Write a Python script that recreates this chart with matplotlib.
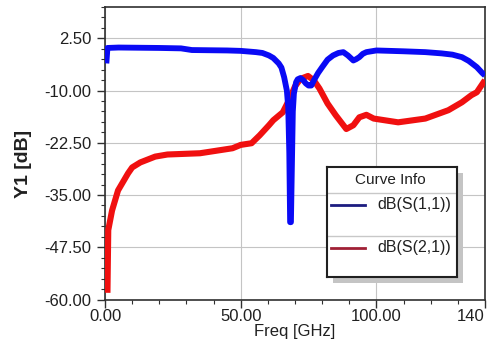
import matplotlib
matplotlib.use("Agg")
import matplotlib.pyplot as plt
from matplotlib.lines import Line2D
from matplotlib.patches import Rectangle
from matplotlib.ticker import MultipleLocator, FixedLocator, FixedFormatter

plt.rcParams['font.family'] = ['Liberation Sans', 'DejaVu Sans']

# ---- data ----
s11_freq = [0.5, 0.9, 5, 20, 28, 32, 45, 50, 55.6, 58, 60.4, 62, 64, 65, 66, 67,
            67.5, 67.9, 68.2, 68.5, 68.8, 69.2, 69.6, 70.4, 71, 72, 73, 74, 75,
            76, 77, 78.5, 80, 82, 84, 86, 87.8, 89.5, 91.5, 92.5, 93.7, 95, 96.3,
            100, 110, 118, 124, 128, 131.5, 134, 137, 139, 140]
s11_db = [-3.5, 0.2, 0.3, 0.2, 0.1, -0.3, -0.4, -0.5, -0.8, -1.0, -1.6, -2.2,
          -3.5, -4.5, -6.8, -10, -14, -25, -41.5, -41.5, -30, -15, -10.7, -8,
          -7.3, -7.0, -7.5, -8.3, -8.8, -8.8, -7.5, -5.8, -4.4, -2.6, -1.6, -1.0,
          -0.8, -1.6, -2.8, -2.5, -2.0, -1.2, -0.8, -0.4, -0.6, -0.8, -1.1, -1.4,
          -2.0, -2.9, -4.4, -5.8, -6.4]

s21_freq = [0.9, 1.2, 2.6, 4.8, 8.5, 10, 13, 18.5, 23, 35, 47, 50, 54, 57, 60.4,
            62, 65.5, 68, 70, 72, 74.8, 77, 79, 82, 85, 88.9, 91.5, 93.7, 96.3,
            99, 108, 118, 126.5, 131.5, 135, 137, 140]
s21_db = [-58.4, -43.4, -38.7, -33.9, -29.8, -28.4, -27.2, -25.8, -25.3, -25.0,
          -23.8, -23.0, -22.6, -20.7, -18.3, -17.1, -15.2, -12, -9, -7.2, -6.5,
          -7.6, -9.5, -13.1, -15.9, -19.2, -18.3, -16.4, -15.8, -16.7, -17.6,
          -16.7, -14.7, -12.8, -11.1, -10.4, -7.5]

xtick_vals = [0, 50, 100, 140]
xtick_labels = ['0.00', '50.00', '100.00', '140']
ytick_vals = [-60, -47.5, -35, -22.5, -10, 2.5]
ytick_labels = ['-60.00', '-47.50', '-35.00', '-22.50', '-10.00', '2.50']
legend_labels = ['dB(S(1,1))', 'dB(S(2,1))']

W, H = 490, 343
fig = plt.figure(figsize=(W / 100, H / 100), dpi=100)
fig.patch.set_facecolor('white')
ax = fig.add_axes([105 / W, (H - 299.5) / H, 380 / W, 292.5 / H])

ax.plot(s21_freq, s21_db, color='#f01010', lw=4.4, solid_capstyle='butt', zorder=3)
ax.plot(s11_freq, s11_db, color='#0a0af5', lw=4.2, solid_capstyle='butt', zorder=4)

ax.set_xlim(0, 140)
ax.set_ylim(-60, 10)
ax.xaxis.set_major_locator(FixedLocator(xtick_vals))
ax.xaxis.set_major_formatter(FixedFormatter(xtick_labels))
ax.xaxis.set_minor_locator(MultipleLocator(10))
ax.yaxis.set_major_locator(FixedLocator(ytick_vals))
ax.yaxis.set_major_formatter(FixedFormatter(ytick_labels))
ax.yaxis.set_minor_locator(MultipleLocator(2.5))

ax.tick_params(which='major', direction='out', length=6, width=1.0,
               color='#303030', labelsize=12, labelcolor='#202020')
ax.tick_params(axis='x', which='major', pad=0.5)
ax.tick_params(axis='y', which='major', pad=4)
ax.tick_params(which='minor', direction='out', length=3, width=0.8, color='#303030')

ax.grid(True, which='major', color='#c4c4c4', lw=0.8)
ax.set_axisbelow(True)
for sp in ax.spines.values():
    sp.set_color('#303030')
    sp.set_linewidth(1.2)

fig.canvas.draw()
ax.get_xticklabels()[-1].set_horizontalalignment('right')

ax.set_xlabel('Freq [GHz]', fontsize=12, color='#202020', labelpad=0)
fig.text(23 / W, (H - 164) / H, 'Y1 [dB]', rotation=90, fontsize=14,
         fontweight='bold', ha='center', va='center', color='#202020')

# ---- legend (Curve Info box) ----
lx0, ly0, lw_, lh_ = 327, 167, 130, 110
fig.patches.append(Rectangle(((lx0 + 6) / W, (H - ly0 - lh_ - 6) / H), lw_ / W, lh_ / H,
                             transform=fig.transFigure, facecolor='#c4c4c4',
                             edgecolor='none', zorder=5))
lax = fig.add_axes([lx0 / W, (H - ly0 - lh_) / H, lw_ / W, lh_ / H], zorder=6)
lax.set_xlim(0, 1)
lax.set_ylim(0, 1)
lax.set_xticks([])
lax.set_yticks([])
lax.set_facecolor('white')
for sp in lax.spines.values():
    sp.set_color('#202020')
    sp.set_linewidth(1.5)
lax.text(0.485, 0.882, 'Curve Info', ha='center', va='center', fontsize=11, color='#202020')
lax.axhline(0.764, color='#c8c8c8', lw=1)
lax.axhline(0.373, color='#c8c8c8', lw=1)
for yy, col, lab in [(0.655, '#1c1c80', legend_labels[0]), (0.264, '#a02035', legend_labels[1])]:
    lax.add_line(Line2D([0.03, 0.29], [yy, yy], color=col, lw=2))
    lax.text(0.385, yy, lab, ha='left', va='center', fontsize=11.5, color='#202020')

fig.savefig('out.png', dpi=100)
